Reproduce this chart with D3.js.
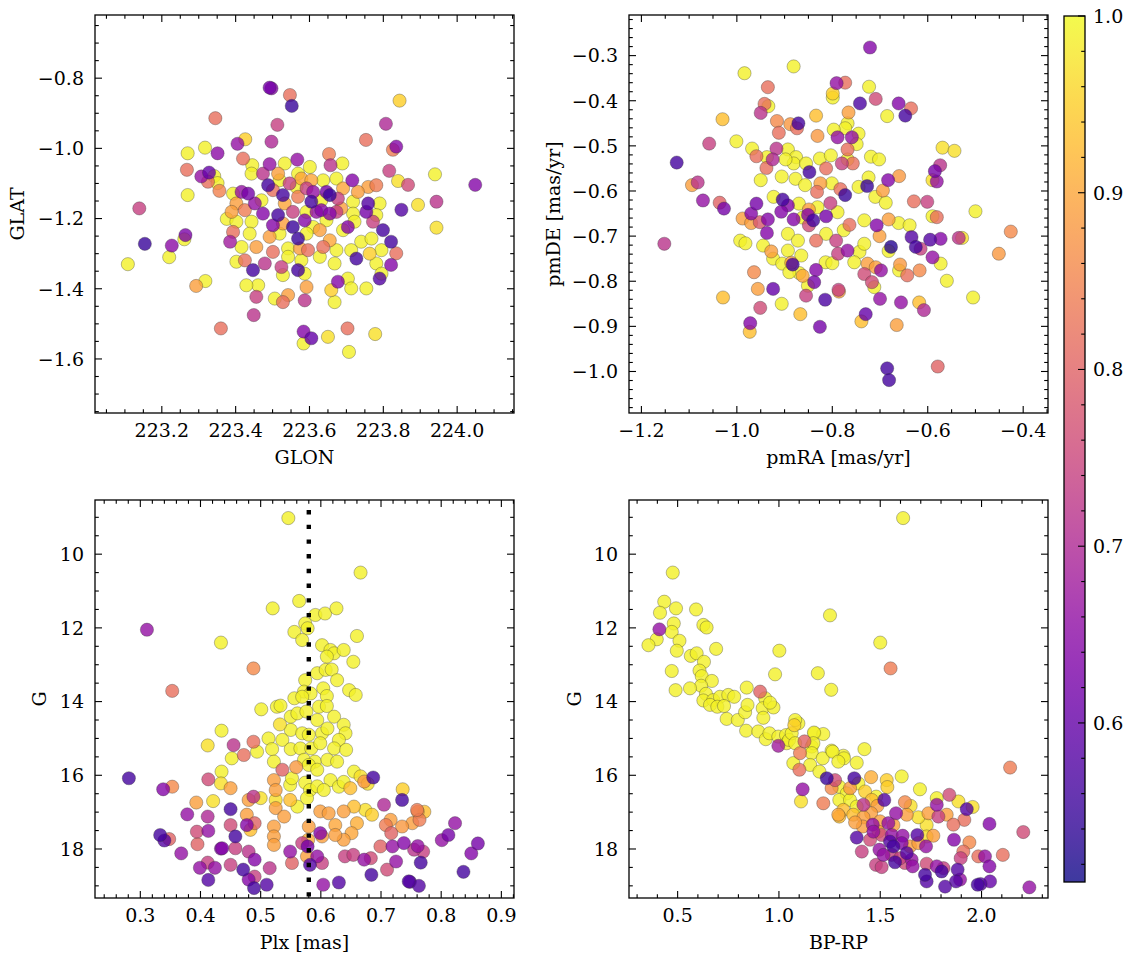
<!DOCTYPE html>
<html><head><meta charset="utf-8">
<script src="https://cdn.jsdelivr.net/npm/d3@7"></script>
<style>body{margin:0;background:#fff}</style>
</head><body><svg id="c" width="1133" height="965" font-family="'DejaVu Serif', 'Liberation Serif', serif"></svg>
<script>
// ---------- DATA ----------
// [GLON, GLAT, membership probability]
const posStars = [
[223.108,-1.330,.99],[223.139,-1.171,.74],[223.154,-1.272,.55],[223.220,-1.310,.99],[223.227,-1.277,.65],[223.261,-1.259,.99],[223.264,-1.247,.63],[223.270,-1.014,.99],[223.270,-1.133,.99],[223.268,-1.061,.82],[223.293,-1.392,.89],[223.318,-1.378,.99],[223.317,-0.998,.99],[223.307,-1.080,.66],[223.325,-1.095,.82],[223.328,-1.069,.60],[223.342,-1.079,.99],[223.351,-1.099,.99],[223.356,-1.121,.85],[223.351,-1.014,.65],[223.345,-0.914,.82],[223.360,-1.513,.82],[223.376,-1.201,.99],[223.385,-1.266,.68],[223.405,-0.987,.66],[223.426,-0.974,.95],[223.449,-1.475,.72],[223.492,-0.827,.62],[223.497,-0.829,.64],[223.497,-0.981,.70],[223.513,-0.933,.74],[223.547,-0.848,.82],[223.552,-0.879,.55],[223.584,-1.522,.64],[223.605,-1.541,.60],[223.584,-1.556,.99],[223.650,-1.537,.97],[223.703,-1.513,.82],[223.707,-1.580,.99],[223.753,-0.976,.82],[223.778,-1.529,.97],[223.807,-0.930,.70],[223.816,-1.064,.74],[223.821,-1.266,.56],[223.821,-1.332,.64],[223.826,-1.004,.84],[223.835,-0.995,.64],[223.835,-1.299,.82],[223.840,-1.093,.97],[223.849,-1.175,.58],[223.844,-0.864,.95],[223.867,-1.104,.76],[223.894,-1.161,.97],[223.940,-1.074,.99],[223.944,-1.152,.72],[223.944,-1.226,.97],[224.049,-1.104,.64],
[223.420,-1.029,.82],[223.445,-1.048,.99],[223.492,-1.045,.66],[223.533,-1.043,.99],[223.567,-1.032,.66],[223.601,-1.053,.99],[223.653,-1.016,.84],[223.657,-1.048,.72],[223.689,-1.043,.99],[223.443,-1.072,.99],[223.474,-1.072,.72],[223.515,-1.072,.89],[223.519,-1.091,.99],[223.569,-1.072,.99],[223.578,-1.086,.90],[223.605,-1.091,.90],[223.637,-1.091,.99],[223.673,-1.086,.99],[223.716,-1.091,.64],[223.781,-1.105,.84],[223.759,-1.110,.89],[223.488,-1.105,.56],[223.501,-1.119,.82],[223.546,-1.100,.74],[223.565,-1.110,.99],[223.592,-1.114,.74],[223.610,-1.124,.66],[223.646,-1.124,.62],[223.655,-1.133,.55],[223.691,-1.114,.90],[223.731,-1.124,.89],[223.393,-1.129,.99],[223.416,-1.124,.66],[223.434,-1.129,.62],[223.402,-1.157,.89],[223.452,-1.157,.66],[223.470,-1.148,.99],[223.528,-1.133,.56],[223.533,-1.157,.90],[223.569,-1.138,.84],[223.605,-1.152,.56],[223.632,-1.148,.99],[223.677,-1.143,.74],[223.686,-1.171,.89],[223.718,-1.152,.99],[223.759,-1.157,.58],[223.790,-1.157,.99],[223.389,-1.181,.89],[223.425,-1.176,.84],[223.474,-1.186,.64],[223.515,-1.190,.56],[223.555,-1.181,.74],[223.592,-1.181,.99],[223.619,-1.181,.66],[223.632,-1.176,.64],[223.655,-1.186,.64],[223.673,-1.181,.74],[223.718,-1.186,.99],[223.754,-1.181,.62],[223.781,-1.190,.99],[223.402,-1.209,.99],[223.443,-1.209,.99],[223.501,-1.219,.64],[223.528,-1.214,.89],[223.555,-1.224,.55],[223.587,-1.205,.64],[223.610,-1.224,.99],[223.646,-1.205,.99],[223.704,-1.224,.64],[223.722,-1.209,.99],[223.772,-1.209,.74],[223.799,-1.233,.56],[223.393,-1.238,.82],[223.438,-1.243,.99],[223.492,-1.252,.89],[223.519,-1.243,.99],[223.569,-1.257,.55],[223.592,-1.243,.99],[223.628,-1.233,.89],[223.655,-1.262,.90],[223.691,-1.233,.99],[223.740,-1.266,.99],[223.768,-1.257,.99],[223.416,-1.281,.99],[223.456,-1.281,.89],[223.501,-1.295,.82],[223.542,-1.285,.99],[223.574,-1.285,.89],[223.596,-1.290,.82],[223.637,-1.281,.82],[223.673,-1.290,.99],[223.713,-1.290,.99],[223.763,-1.300,.95],[223.795,-1.290,.99],[223.425,-1.319,.82],[223.479,-1.328,.72],[223.524,-1.338,.74],[223.542,-1.309,.99],[223.578,-1.319,.99],[223.628,-1.309,.99],[223.668,-1.328,.99],[223.727,-1.314,.56],[223.781,-1.328,.99],[223.402,-1.323,.99],[223.447,-1.347,.56],[223.528,-1.361,.99],[223.569,-1.347,.56],[223.587,-1.357,.99],[223.677,-1.380,.64],[223.704,-1.371,.99],[223.790,-1.371,.58],[223.795,-1.357,.99],[223.461,-1.390,.99],[223.429,-1.390,.99],[223.592,-1.395,.89],[223.659,-1.404,.95],[223.713,-1.399,.99],[223.754,-1.399,.99],[223.456,-1.423,.74],[223.506,-1.428,.99],[223.542,-1.418,.89],[223.528,-1.438,.82],[223.587,-1.433,.72],[223.668,-1.438,.99]
];
// [pmRA, pmDE, probability]
const pmStars = [
[-0.721,-0.282,.64],[-0.984,-0.339,.99],[-0.881,-0.324,.99],[-0.935,-0.370,.82],[-0.791,-0.361,.66],[-0.773,-0.360,.82],[-0.799,-0.384,.95],[-0.799,-0.393,.99],[-0.723,-0.369,.99],[-0.709,-0.396,.76],[-0.742,-0.406,.57],[-0.661,-0.406,.64],[-0.635,-0.417,.82],[-0.647,-0.433,.56],[-0.685,-0.434,.99],[-0.942,-0.407,.82],[-0.934,-0.412,.99],[-0.950,-0.427,.72],[-1.030,-0.441,.93],[-0.916,-0.445,.86],[-0.912,-0.471,.82],[-0.888,-0.452,.88],[-0.871,-0.450,.56],[-0.874,-0.461,.82],[-0.834,-0.433,.93],[-0.831,-0.478,.88],[-0.766,-0.426,.89],[-0.768,-0.450,.99],[-0.773,-0.461,.99],[-0.797,-0.464,.99],[-0.745,-0.473,.99],[-0.789,-0.481,.66],[-0.759,-0.481,.66],[-0.749,-0.496,.99],[-0.768,-0.508,.82],[-1.058,-0.495,.74],[-1.001,-0.490,.99],[-0.968,-0.506,.99],[-0.959,-0.523,.82],[-0.917,-0.506,.72],[-0.925,-0.530,.70],[-0.938,-0.549,.82],[-0.937,-0.525,.99],[-0.893,-0.508,.99],[-0.876,-0.525,.99],[-0.881,-0.539,.99],[-0.898,-0.530,.99],[-0.855,-0.539,.99],[-0.848,-0.558,.56],[-0.826,-0.528,.99],[-0.813,-0.550,.82],[-0.803,-0.521,.99],[-0.780,-0.539,.74],[-0.768,-0.530,.99],[-0.757,-0.539,.82],[-0.719,-0.524,.99],[-0.702,-0.530,.99],[-0.569,-0.504,.97],[-0.544,-0.511,.97],[-0.574,-0.543,.72],[-0.585,-0.556,.62],[-0.590,-0.576,.97],[-0.581,-0.579,.66],[-0.660,-0.567,.88],[-0.683,-0.576,.64],[-0.694,-0.599,.89],[-0.727,-0.589,.55],[-1.126,-0.537,.56],[-1.094,-0.587,.89],[-1.082,-0.581,.72],[-1.071,-0.621,.66],[-1.036,-0.626,.80],[-1.027,-0.639,.62],[-1.152,-0.717,.72],[-0.950,-0.576,.99],[-0.906,-0.568,.99],[-0.877,-0.573,.99],[-0.857,-0.587,.99],[-0.825,-0.583,.89],[-0.801,-0.583,.99],[-0.783,-0.596,.82],[-0.773,-0.609,.55],[-0.745,-0.591,.99],[-0.724,-0.570,.99],[-0.710,-0.613,.99],[-0.688,-0.626,.99],[-0.923,-0.613,.99],[-0.904,-0.619,.56],[-0.893,-0.632,.64],[-0.870,-0.628,.99],[-0.849,-0.641,.89],[-0.832,-0.602,.82],[-0.804,-0.627,.74],[-0.831,-0.636,.99],[-0.959,-0.628,.62],[-0.970,-0.650,.64],[-0.988,-0.661,.89],[-0.970,-0.671,.89],[-0.952,-0.669,.78],[-0.935,-0.663,.64],[-0.937,-0.693,.64],[-0.907,-0.646,.64],[-0.881,-0.663,.64],[-0.862,-0.659,.99],[-0.851,-0.653,.64],[-0.840,-0.665,.56],[-0.849,-0.676,.76],[-0.813,-0.656,.62],[-0.789,-0.647,.99],[-0.764,-0.675,.82],[-0.776,-0.687,.99],[-0.733,-0.665,.99],[-0.707,-0.676,.64],[-0.701,-0.700,.89],[-0.682,-0.663,.89],[-0.661,-0.671,.99],[-0.638,-0.676,.99],[-0.629,-0.623,.82],[-0.601,-0.624,.74],[-0.590,-0.656,.99],[-0.581,-0.658,.82],[-0.500,-0.645,.99],[-0.634,-0.702,.58],[-0.595,-0.708,.58],[-0.573,-0.706,.64],[-0.535,-0.704,.72],[-0.528,-0.704,.97],[-0.451,-0.739,.88],[-0.426,-0.690,.86],[-0.677,-0.724,.53],[-0.682,-0.733,.99],[-0.625,-0.724,.56],[-0.615,-0.728,.74],[-0.590,-0.747,.66],[-0.573,-0.761,.99],[-0.560,-0.799,.99],[-0.505,-0.836,.99],[-0.993,-0.710,.99],[-0.982,-0.716,.99],[-0.945,-0.721,.99],[-0.928,-0.734,.89],[-0.893,-0.695,.99],[-0.872,-0.710,.99],[-0.893,-0.732,.99],[-0.865,-0.743,.99],[-0.834,-0.710,.82],[-0.813,-0.695,.99],[-0.792,-0.710,.74],[-0.788,-0.739,.74],[-0.768,-0.732,.66],[-0.743,-0.735,.99],[-0.733,-0.717,.99],[-0.924,-0.750,.99],[-0.905,-0.761,.99],[-0.886,-0.759,.89],[-0.883,-0.763,.56],[-0.869,-0.782,.99],[-0.890,-0.780,.99],[-0.814,-0.758,.99],[-0.800,-0.760,.99],[-0.834,-0.775,.64],[-0.838,-0.802,.62],[-0.851,-0.810,.99],[-0.862,-0.788,.90],[-0.754,-0.758,.99],[-0.726,-0.761,.89],[-0.733,-0.784,.76],[-0.717,-0.802,.76],[-0.712,-0.813,.99],[-0.698,-0.776,.66],[-0.709,-0.769,.89],[-0.658,-0.763,.88],[-0.660,-0.776,.99],[-0.643,-0.787,.82],[-0.617,-0.776,.86],[-0.964,-0.780,.86],[-0.956,-0.817,.89],[-0.924,-0.817,.60],[-0.906,-0.850,.99],[-0.867,-0.873,.93],[-0.855,-0.832,.74],[-0.815,-0.841,.57],[-0.787,-0.819,.74],[-0.786,-0.823,.89],[-1.029,-0.836,.93],[-0.951,-0.859,.76],[-0.972,-0.893,.64],[-0.973,-0.912,.93],[-0.826,-0.901,.62],[-0.739,-0.889,.93],[-0.730,-0.873,.60],[-0.700,-0.839,.66],[-0.656,-0.847,.66],[-0.665,-0.897,.89],[-0.618,-0.847,.93],[-0.608,-0.864,.70],[-0.685,-0.993,.56],[-0.681,-1.019,.56],[-0.579,-0.989,.80]
];
// [Plx, G, probability]
const plxStars = [
[0.546,9.02,.99],[0.311,12.05,.66],[0.434,12.40,.99],[0.353,13.71,.82],[0.281,16.08,.56],[0.338,16.38,.64],[0.353,16.31,.86],[0.393,16.74,.89],[0.413,16.11,.76],[0.378,17.06,.66],[0.412,17.12,.70],[0.394,17.53,.76],[0.413,17.51,.66],[0.333,17.62,.56],[0.340,17.77,.58],[0.348,17.73,.80],[0.395,17.87,.80],[0.368,18.12,.66],[0.399,18.51,.66],[0.412,18.37,.74],[0.424,18.51,.66],[0.413,18.84,.58],[0.434,17.99,.64],[0.435,15.90,.99],[0.435,14.79,.99],[0.412,15.19,.97],[0.421,16.70,.97],[0.687,16.06,.56],[0.735,16.67,.56],[0.736,16.38,.95],[0.761,16.99,.89],[0.772,16.99,.93],[0.764,17.21,.84],[0.823,17.30,.66],[0.812,17.62,.62],[0.801,17.76,.66],[0.861,17.85,.62],[0.850,18.12,.64],[0.837,18.62,.56],[0.748,18.89,.58],[0.763,19.00,.58],[0.766,18.37,.56],[0.761,17.92,.66],[0.770,18.07,.74],[0.434,16.22,.97],[0.450,16.35,.89],
[0.666,10.50,.99],[0.520,11.47,.99],[0.564,11.27,.99],[0.591,11.65,.99],[0.607,11.61,.99],[0.626,11.47,.99],[0.574,11.88,.99],[0.578,12.01,.99],[0.556,12.11,.99],[0.569,12.33,.99],[0.660,12.22,.99],[0.602,12.47,.99],[0.616,12.60,.99],[0.622,12.69,.99],[0.638,12.60,.99],[0.610,12.78,.99],[0.654,12.92,.99],[0.488,13.10,.86],[0.594,13.23,.99],[0.608,13.14,.99],[0.618,13.13,.99],[0.627,13.42,.99],[0.574,13.42,.99],[0.647,13.69,.99],[0.658,13.82,.99],[0.572,13.73,.99],[0.583,13.78,.99],[0.604,13.64,.99],[0.610,13.85,.99],[0.556,13.91,.99],[0.569,13.87,.99],[0.597,14.14,.99],[0.610,14.12,.99],[0.622,14.41,.99],[0.527,14.14,.99],[0.533,14.11,.99],[0.501,14.21,.99],[0.550,14.41,.99],[0.561,14.32,.99],[0.576,14.27,.99],[0.594,14.50,.99],[0.532,14.62,.97],[0.550,14.77,.99],[0.569,14.86,.99],[0.580,14.90,.99],[0.602,14.86,.99],[0.611,14.73,.99],[0.638,14.63,.99],[0.641,14.86,.99],[0.630,15.04,.99],[0.513,15.00,.99],[0.536,15.04,.99],[0.519,15.29,.99],[0.550,15.29,.99],[0.566,15.27,.99],[0.584,15.27,.99],[0.599,15.13,.99],[0.622,15.27,.99],[0.642,15.31,.99],[0.522,15.63,.99],[0.572,15.58,.99],[0.590,15.63,.99],[0.611,15.58,.99],[0.627,15.63,.99],[0.536,15.85,.80],[0.559,15.78,.88],[0.580,15.72,.99],[0.594,15.85,.99],[0.655,15.90,.99],[0.666,16.03,.97],[0.672,16.17,.88],[0.678,16.23,.97],[0.616,16.13,.99],[0.630,16.31,.99],[0.649,16.35,.93],[0.638,16.18,.99],[0.522,16.13,.89],[0.525,16.40,.89],[0.549,16.26,.99],[0.552,16.08,.99],[0.574,16.20,.99],[0.582,16.40,.99],[0.594,16.30,.99],[0.605,16.40,.99],[0.488,16.58,.72],[0.500,16.62,.97],[0.480,16.67,.89],[0.525,16.67,.97],[0.549,16.67,.93],[0.561,16.85,.99],[0.577,16.62,.99],[0.525,16.89,.89],[0.539,17.12,.89],[0.522,17.39,.89],[0.522,17.66,.89],[0.522,17.89,.89],[0.450,16.92,.56],[0.477,17.07,.89],[0.483,17.48,.93],[0.477,17.35,.64],[0.450,17.35,.76],[0.458,17.66,.56],[0.490,17.30,.80],[0.599,16.98,.89],[0.613,17.03,.89],[0.624,17.35,.90],[0.638,16.98,.89],[0.655,16.85,.93],[0.674,16.94,.97],[0.685,17.07,.95],[0.660,17.30,.91],[0.651,17.57,.90],[0.638,17.75,.89],[0.624,17.62,.89],[0.602,17.66,.89],[0.580,17.39,.89],[0.579,17.75,.91],[0.708,17.35,.84],[0.716,17.21,.89],[0.717,17.57,.80],[0.705,16.80,.70],[0.735,17.39,.88],[0.752,17.30,.89],[0.760,16.94,.84],[0.699,17.93,.80],[0.719,17.93,.66],[0.738,17.84,.64],[0.755,18.02,.72],[0.436,17.98,.64],[0.458,17.98,.74],[0.480,18.07,.72],[0.549,18.07,.66],[0.569,17.84,.74],[0.578,17.93,.62],[0.577,18.20,.89],[0.599,17.57,.64],[0.594,18.20,.66],[0.602,18.38,.74],[0.640,18.20,.74],[0.654,18.16,.74],[0.672,18.29,.66],[0.683,18.25,.76],[0.710,18.56,.76],[0.725,18.34,.66],[0.450,18.43,.74],[0.471,18.56,.56],[0.490,18.29,.64],[0.515,18.52,.72],[0.552,18.38,.80],[0.582,18.43,.58],[0.480,18.83,.64],[0.489,19.06,.56],[0.490,18.75,.74],[0.510,18.97,.58],[0.604,18.97,.66],[0.630,18.91,.58],[0.684,18.70,.56],[0.746,18.88,.58],[0.455,15.18,.72],[0.452,15.54,.99],[0.472,15.45,.82],[0.488,15.09,.82],[0.494,15.36,.99]
];
// [BP-RP, G, probability]
const cmdStars = [
[1.613,9.02,.99],[1.500,12.40,.99],[1.551,13.10,.84],
[0.476,10.50,.99],[0.434,11.29,.99],[0.413,11.59,.99],[0.492,11.47,.99],[0.591,11.50,.99],[0.481,11.88,.99],[0.410,12.04,.66],[0.627,11.92,.99],[0.643,11.99,.99],[0.471,12.11,.99],[0.397,12.31,.99],[0.356,12.47,.99],[0.509,12.35,.99],[0.496,12.62,.99],[0.690,12.57,.99],[0.565,12.76,.99],[0.594,12.69,.99],[0.630,12.92,.99],[0.608,13.16,.99],[0.471,13.17,.99],[0.619,13.31,.99],[0.669,13.44,.99],[0.616,13.57,.99],[0.561,13.64,.99],[0.490,13.69,.99],[0.640,13.79,.99],[0.627,13.97,.99],[0.676,13.96,.99],[0.709,13.87,.99],[0.750,13.82,.99],[0.779,13.87,.99],[0.660,14.09,.99],[0.696,14.14,.99],[0.729,14.12,.99],[0.742,14.47,.99],[0.797,14.50,.99],[0.841,13.62,.99],[0.833,14.29,.99],[0.845,14.09,.99],[0.838,14.79,.99],[0.907,13.73,.80],[0.932,13.91,.99],[0.920,14.18,.99],[0.973,14.16,.99],[0.956,14.03,.99],[0.923,14.44,.99],[0.898,14.81,.99],[0.935,15.02,.99],[0.953,14.86,.99],[0.997,14.95,.99],[0.997,15.20,.68],[1.035,14.91,.99],[1.076,14.64,.95],[1.096,14.59,.99],[1.038,15.13,.99],[1.002,12.62,.99],[0.981,13.26,.99],[1.252,11.66,.99],[1.192,13.23,.99],[1.258,13.68,.99],[1.175,14.86,.99],[1.219,14.88,.99],[1.126,15.08,.80],[1.162,15.22,.99],[1.104,15.40,.84],[1.260,15.33,.99],[1.318,15.47,.99],[1.422,15.29,.99],[1.050,15.04,.99],
[1.080,14.50,.99],[1.063,14.86,.99],[1.173,14.84,.99],[1.170,15.13,.99],[1.080,15.13,.99],[1.162,15.40,.99],[1.216,15.54,.99],[1.265,15.36,.99],[1.321,15.54,.99],[1.293,15.63,.99],[1.384,15.66,.99],[1.071,15.67,.99],[1.154,15.72,.99],[1.101,15.85,.82],[1.200,15.90,.99],[1.236,16.08,.55],[1.277,16.13,.76],[1.260,16.35,.86],[1.298,16.31,.99],[1.351,16.35,.88],[1.372,16.08,.56],[1.392,16.22,.99],[1.455,16.05,.91],[1.532,16.13,.95],[1.606,16.03,.99],[1.535,16.32,.95],[1.335,16.49,.99],[1.425,16.44,.95],[1.117,16.38,.66],[1.109,16.71,.97],[1.219,16.76,.84],[1.298,16.67,.99],[1.351,16.67,.99],[1.318,16.94,.93],[1.384,16.85,.99],[1.417,16.80,.72],[1.458,16.67,.93],[1.480,16.58,.99],[1.520,16.67,.58],[1.486,16.83,.89],[1.455,17.03,.89],[1.293,17.07,.90],[1.367,17.07,.93],[1.417,17.14,.89],[1.622,16.73,.86],[1.650,16.83,.97],[1.696,16.38,.99],[1.779,16.62,.99],[1.841,16.53,.76],[1.886,16.71,.97],[1.956,16.86,.97],[1.927,16.92,.58],[1.738,17.03,.89],[1.779,16.80,.66],[1.787,17.12,.74],[1.828,17.07,.89],[1.915,17.21,.82],[1.861,17.34,.82],[1.729,17.35,.97],[1.688,17.14,.97],[1.631,17.07,.89],[1.578,17.03,.66],[1.540,17.30,.66],[1.565,17.35,.89],[1.499,17.25,.89],[1.463,17.34,.66],[1.414,17.39,.89],[1.376,17.28,.89],[1.298,17.12,.93],[1.491,17.53,.89],[1.466,17.53,.66],[1.384,17.69,.58],[1.450,17.75,.76],[1.507,17.62,.76],[1.548,17.80,.58],[1.557,17.62,.66],[1.611,17.64,.66],[1.606,17.84,.64],[1.647,17.93,.89],[1.683,17.62,.58],[1.688,17.84,.89],[1.729,17.66,.97],[1.726,17.93,.66],[1.762,17.64,.89],[1.864,17.75,.64],[1.940,17.82,.86],[2.039,17.32,.64],[2.206,17.54,.76],[2.141,15.79,.84],[1.910,18.07,.82],[1.897,18.25,.74],[1.984,18.20,.82],[2.017,18.20,.66],[2.105,18.16,.82],[2.039,18.47,.64],[1.409,18.07,.74],[1.496,18.02,.66],[1.565,17.93,.56],[1.516,18.16,.66],[1.557,18.16,.74],[1.598,18.25,.74],[1.631,18.11,.58],[1.655,18.29,.66],[1.573,18.36,.56],[1.479,18.43,.74],[1.507,18.49,.74],[1.622,18.38,.76],[1.660,18.47,.66],[1.729,18.40,.76],[1.779,18.47,.66],[1.812,18.52,.74],[1.803,18.61,.56],[1.882,18.56,.58],[1.894,18.83,.66],[1.874,18.88,.58],[1.721,18.70,.56],[1.729,18.88,.58],[1.820,19.02,.58],[1.981,18.97,.56],[1.995,18.95,.58],[2.042,18.88,.60],[2.236,19.04,.66]
];
const plxMean = 0.58;
const glonTicks = [223.2, 223.4, 223.6, 223.8, 224.0];
const glatTicks = [-0.8, -1.0, -1.2, -1.4, -1.6];
const pmraTicks = [-1.2, -1.0, -0.8, -0.6, -0.4];
const pmdeTicks = [-0.3, -0.4, -0.5, -0.6, -0.7, -0.8, -0.9, -1.0];
const plxTicks = [0.3, 0.4, 0.5, 0.6, 0.7, 0.8, 0.9];
const gTicks = [10, 12, 14, 16, 18];
const bprpTicks = [0.5, 1.0, 1.5, 2.0];
const cbarTicks = [0.6, 0.7, 0.8, 0.9, 1.0];
const probRange = [0.51, 1.0];

// ---------- DRAWING ----------
const svg = d3.select("#c");
const FS = 19;
const R = 6.6;
const color = d3.scaleSequential(d3.interpolatePlasma).domain(probRange);
const f1 = d3.format(".1f"), f0 = d3.format("d");

function minorVals(dom, step, majors) {
  const lo = Math.min(...dom), hi = Math.max(...dom);
  const out = [];
  for (let k = Math.ceil(lo / step - 1e-9); k * step <= hi + 1e-9; k++) {
    const v = k * step;
    if (!majors.some(m => Math.abs(m - v) < step * 0.01)) out.push(v);
  }
  return out;
}

function drawPanel(p, idx) {
  const x = d3.scaleLinear().domain(p.xdom).range([p.l, p.r]);
  const y = d3.scaleLinear().domain(p.ydom).range([p.b, p.t]);
  const cid = "clip" + idx;
  svg.append("clipPath").attr("id", cid).append("rect")
    .attr("x", p.l).attr("y", p.t).attr("width", p.r - p.l).attr("height", p.b - p.t);
  const g = svg.append("g");
  const pts = p.data.slice().sort((a, b) => b[2] - a[2]);
  g.append("g").attr("clip-path", `url(#${cid})`).selectAll("circle").data(pts).join("circle")
    .attr("cx", d => x(d[0])).attr("cy", d => y(d[1])).attr("r", R)
    .attr("fill", d => color(d[2])).attr("fill-opacity", 0.8)
    .attr("stroke", "#333").attr("stroke-width", 0.45).attr("stroke-opacity", 0.75);
  if (p.vline !== undefined) {
    g.append("line").attr("x1", x(p.vline)).attr("x2", x(p.vline))
      .attr("y1", p.t).attr("y2", p.b).attr("stroke", "#000")
      .attr("stroke-width", 4.4).attr("stroke-dasharray", "4.4 10.3").attr("stroke-dashoffset", -10);
  }
  g.append("rect").attr("x", p.l).attr("y", p.t).attr("width", p.r - p.l).attr("height", p.b - p.t)
    .attr("fill", "none").attr("stroke", "#000").attr("stroke-width", 1.3);
  const tk = g.append("g").attr("stroke", "#000").attr("stroke-width", 1.1);
  const MJ = 7, MN = 3.8;
  const xMin = minorVals(p.xdom, p.xminor, p.xticks), yMin = minorVals(p.ydom, p.yminor, p.yticks);
  p.xticks.forEach(v => { const X = x(v);
    tk.append("line").attr("x1", X).attr("x2", X).attr("y1", p.b).attr("y2", p.b - MJ);
    tk.append("line").attr("x1", X).attr("x2", X).attr("y1", p.t).attr("y2", p.t + MJ); });
  xMin.forEach(v => { const X = x(v);
    tk.append("line").attr("x1", X).attr("x2", X).attr("y1", p.b).attr("y2", p.b - MN);
    tk.append("line").attr("x1", X).attr("x2", X).attr("y1", p.t).attr("y2", p.t + MN); });
  p.yticks.forEach(v => { const Y = y(v);
    tk.append("line").attr("y1", Y).attr("y2", Y).attr("x1", p.l).attr("x2", p.l + MJ);
    tk.append("line").attr("y1", Y).attr("y2", Y).attr("x1", p.r).attr("x2", p.r - MJ); });
  yMin.forEach(v => { const Y = y(v);
    tk.append("line").attr("y1", Y).attr("y2", Y).attr("x1", p.l).attr("x2", p.l + MN);
    tk.append("line").attr("y1", Y).attr("y2", Y).attr("x1", p.r).attr("x2", p.r - MN); });
  p.xticks.forEach(v => g.append("text").attr("x", x(v)).attr("y", p.b + 24)
    .attr("text-anchor", "middle").attr("font-size", FS).text(p.xfmt(v)));
  p.yticks.forEach(v => g.append("text").attr("x", p.l - 11).attr("y", y(v)).attr("dy", "0.36em")
    .attr("text-anchor", "end").attr("font-size", FS).text(p.yfmt(v)));
  g.append("text").attr("x", (p.l + p.r) / 2).attr("y", p.b + 51).attr("text-anchor", "middle")
    .attr("font-size", FS).text(p.xlabel);
  g.append("text").attr("transform", `translate(${p.ylx},${(p.t + p.b) / 2}) rotate(-90)`)
    .attr("text-anchor", "middle").attr("font-size", FS).text(p.ylabel);
}

const panels = [
  {l: 95, r: 514, t: 15, b: 413, xdom: [223.019, 224.154], ydom: [-1.754, -0.620], data: posStars,
   xticks: glonTicks, yticks: glatTicks, xminor: 0.05, yminor: 0.05, xfmt: f1, yfmt: f1,
   xlabel: "GLON", ylabel: "GLAT", ylx: 24},
  {l: 629, r: 1048, t: 15, b: 413, xdom: [-1.226, -0.348], ydom: [-1.092, -0.210], data: pmStars,
   xticks: pmraTicks, yticks: pmdeTicks, xminor: 0.05, yminor: 0.02, xfmt: f1, yfmt: f1,
   xlabel: "pmRA [mas/yr]", ylabel: "pmDE [mas/yr]", ylx: 560},
  {l: 95, r: 514, t: 500, b: 898, xdom: [0.2247, 0.921], ydom: [19.33, 8.53], data: plxStars,
   xticks: plxTicks, yticks: gTicks, xminor: 0.02, yminor: 0.5, xfmt: f1, yfmt: f0,
   xlabel: "Plx [mas]", ylabel: "G", ylx: 46, vline: plxMean},
  {l: 629, r: 1048, t: 500, b: 898, xdom: [0.26, 2.328], ydom: [19.33, 8.53], data: cmdStars,
   xticks: bprpTicks, yticks: gTicks, xminor: 0.1, yminor: 0.5, xfmt: f1, yfmt: f0,
   xlabel: "BP-RP", ylabel: "G", ylx: 581}
];
panels.forEach(drawPanel);

const cb = {l: 1064, r: 1085, t: 16, b: 882};
const cy = d3.scaleLinear().domain(probRange).range([cb.b, cb.t]);
const grad = svg.append("defs").append("linearGradient").attr("id", "cbg")
  .attr("x1", 0).attr("y1", 1).attr("x2", 0).attr("y2", 0);
d3.range(0, 1.0001, 0.05).forEach(t => grad.append("stop").attr("offset", t).attr("stop-color", d3.interpolatePlasma(t)).attr("stop-opacity", 0.8));
svg.append("rect").attr("x", cb.l).attr("y", cb.t).attr("width", cb.r - cb.l).attr("height", cb.b - cb.t)
  .attr("fill", "url(#cbg)").attr("stroke", "#000").attr("stroke-width", 1.3);
const cbt = svg.append("g").attr("stroke", "#000").attr("stroke-width", 1.1);
cbarTicks.forEach(v => {
  cbt.append("line").attr("x1", cb.r).attr("x2", cb.r - 7).attr("y1", cy(v)).attr("y2", cy(v));
  svg.append("text").attr("x", cb.r + 8).attr("y", cy(v)).attr("dy", "0.36em").attr("font-size", FS).text(f1(v));
});
minorVals(probRange, 0.02, cbarTicks).forEach(v =>
  cbt.append("line").attr("x1", cb.r).attr("x2", cb.r - 3.8).attr("y1", cy(v)).attr("y2", cy(v)));
</script></body></html>
